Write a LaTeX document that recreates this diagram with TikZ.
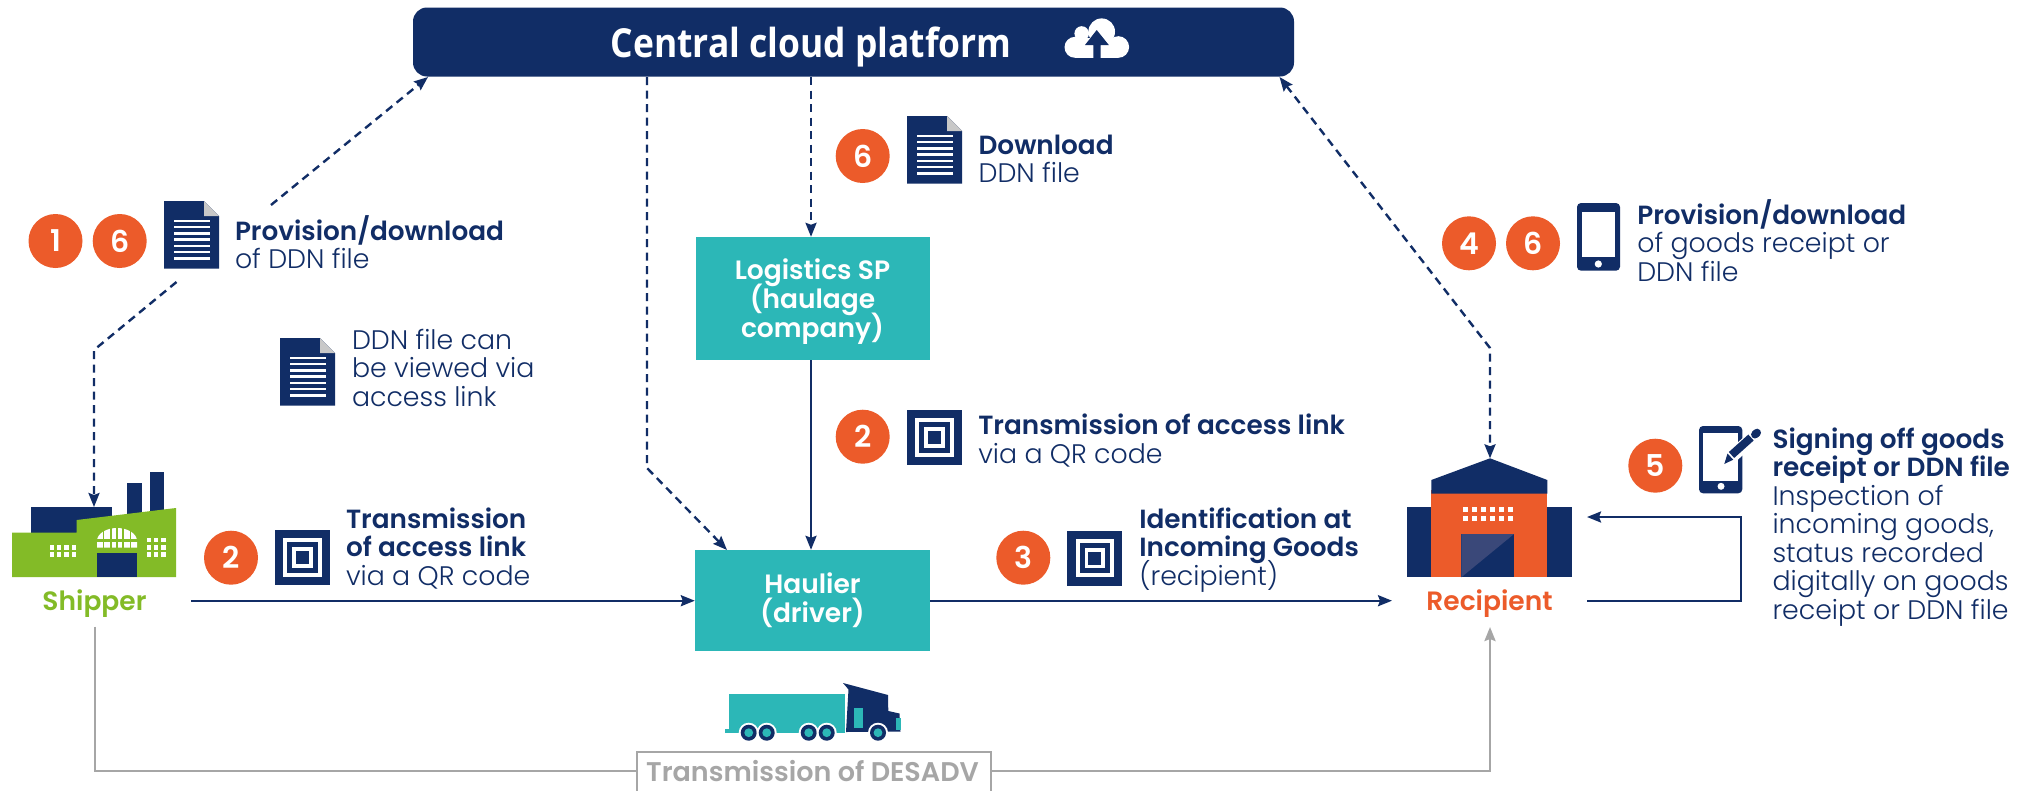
\documentclass[tikz,border=0pt]{standalone}
\usepackage{fontspec}
\usetikzlibrary{arrows.meta}
\setmainfont{Poppins}
\newfontfamily\platfont{Open Sans}
\newfontfamily\lightf{Poppins Light}
\newfontfamily\semif{Poppins SemiBold}
\definecolor{navy}{HTML}{112D66}
\definecolor{teal2}{HTML}{2CB7B7}
\definecolor{org}{HTML}{EC5B2A}
\definecolor{grn}{HTML}{83BB27}
\definecolor{gry}{HTML}{A6A6A6}
\definecolor{foldg}{HTML}{C8C8C8}
\definecolor{lightnavy}{HTML}{3A4879}
\newcommand\stk[1]{\vtop{\baselineskip=28.5pt\lineskiplimit=-100pt #1}}
\newcommand\lb[1]{\hbox{\semif\fontsize{26.3}{28.5}\selectfont #1}}
\newcommand\lr[1]{\hbox{\lightf\fontsize{26.8}{28.5}\selectfont #1}}
\newcommand\tealfont{\fontsize{26.5}{28.7}\selectfont\semif\setlength{\lineskiplimit}{-100pt}}
\tikzset{
  txt/.style={anchor=base west,inner sep=0pt,outer sep=0pt,text=navy,font=\fontsize{26}{28.5}\selectfont},
  badge/.style={circle,fill=org,minimum size=54pt,inner sep=0pt,text=white,font=\fontsize{30}{30}\selectfont\semif},
  tealbox/.style={rectangle,fill=teal2,inner sep=0pt,text=white,align=center,font=\tealfont},
  dashline/.style={draw=navy,line width=2.4pt,dash pattern=on 8pt off 5.5pt,-{Stealth[length=14pt,width=11pt,inset=2pt]}},
  solidline/.style={draw=navy,line width=2.4pt,-{Stealth[length=14pt,width=11pt,inset=2pt]}},
  plainline/.style={draw=navy,line width=2.4pt},
  grayline/.style={draw=gry,line width=2.6pt},
  grayarrow/.style={draw=gry,line width=2.6pt,-{Stealth[length=14pt,width=11pt,inset=2pt]}},
  icon/.style={inner sep=0pt,outer sep=0pt},
  pics/docicon/.style={code={
    \fill[navy] (0,0) -- (40,0) -- (55,15) -- (55,67.5) -- (0,67.5) -- cycle;
    \fill[foldg] (40,0) -- (55,15) -- (40,15) -- cycle;
    \foreach \yy in {19.7,26,32.3,38.6,44.9,51.2,57.5}
      \fill[white] (9.5,\yy-1.2) rectangle (45.5,\yy+1.2);
  }},
  pics/qricon/.style={code={
    \fill[navy] (0,0) rectangle (55,55);
    \fill[white] (8.3,8.3) rectangle (46.7,46.7);
    \fill[navy] (12.3,12.3) rectangle (42.7,42.7);
    \fill[white] (17.3,17.3) rectangle (37.7,37.7);
    \fill[navy] (21,21) rectangle (34,34);
  }}
}
\begin{document}
\begin{tikzpicture}[x=1pt,y=-1pt]
\useasboundingbox (0,0) rectangle (2036,790);
\fill[white] (0,0) rectangle (2036,790);

% platform
\node[rectangle,rounded corners=14pt,fill=navy,minimum width=881pt,minimum height=69pt,inner sep=0pt] (platform) at (853.5,42) {};
\node[inner sep=0pt,text=white,anchor=base west,font=\fontsize{40}{40}\selectfont\platfont\bfseries] (platformtext) at (610.5,57) {\scalebox{0.885}[1]{Central cloud platform}};
\fill[white] (1075,47.3) circle (10.5);
\fill[white] (1081.7,33.5) circle (7.3);
\fill[white] (1101.7,31.7) circle (13.3);
\fill[white] (1118.3,47) circle (10.8);
\fill[white] (1075,38) rectangle (1118,57.5);
\fill[navy] (1096.7,30) -- (1108.8,45) -- (1100.7,45) -- (1100.7,58) -- (1093.3,58) -- (1093.3,45) -- (1085,45) -- cycle;

% boxes
\node[tealbox,minimum width=234pt,minimum height=123pt] (logistics) at (812.5,298.5) {\rule{0pt}{27pt}Logistics SP\\(haulage\\company)};
\node[tealbox,minimum width=235pt,minimum height=101pt] (haulier) at (812.5,600.5) {Haulier\\(driver)};

% factory
\coordinate (shippertop) at (94,507);
\fill[navy] (31,507) rectangle (111.7,535);
\fill[navy] (126.7,483) rectangle (141.7,518);
\fill[navy] (150,472) rectangle (164,515);
\fill[grn] (12,532.7) -- (76.7,532.7) -- (76.7,520) -- (176,508) -- (176,577) -- (12,577) -- cycle;
\fill[navy] (97.3,553) rectangle (137,577);
\fill[white] (97,547.7) -- (97,541) arc[start angle=180,end angle=360,x radius=20,y radius=13] -- (137,547.7) -- cycle;
\foreach \xx in {103.5,111,117,123,130.5} \fill[grn] (\xx-.7,526) rectangle (\xx+.7,549);
\fill[grn] (96,539) rectangle (138,541.5);
\foreach \xx in {49.7,57,64.3,71.6} \foreach \yy in {545.3,552.3} \fill[white] (\xx,\yy) rectangle (\xx+4.4,\yy+4.4);
\foreach \xx in {146.7,154,161.3} \foreach \yy in {538,545.3,552.3} \fill[white] (\xx,\yy) rectangle (\xx+4.4,\yy+4.4);
\node[inner sep=0pt,anchor=base,text=grn,font=\fontsize{26.5}{28}\selectfont\semif] (shipper) at (94.5,610) {Shipper};

% recipient
\fill[navy] (1407,506.7) rectangle (1572,577.3);
\fill[org] (1431.3,490) rectangle (1547.3,577.3);
\fill[navy] (1490,458.3) -- (1547.3,480) -- (1547.3,493.7) -- (1431.3,493.7) -- (1431.3,480) -- cycle;
\foreach \xx in {0,1,...,5} \foreach \yy in {506.7,515.7} \fill[white] (1463+9*\xx,\yy) rectangle (1468.4+9*\xx,\yy+5.3);
\fill[navy] (1461.3,534) rectangle (1514,577.3);
\fill[lightnavy] (1461.3,534) -- (1514,534) -- (1461.3,577.3) -- cycle;
\coordinate (recipienttop) at (1490,458.3);
\node[inner sep=0pt,anchor=base,text=org,font=\fontsize{26.5}{28}\selectfont\semif] (recipient) at (1489.5,610) {Recipient};

% truck
\fill[teal2] (729.3,694) rectangle (845.3,733);
\fill[teal2] (725,729) rectangle (740,733);
\fill[navy] (843,683) -- (888,695) -- (888.3,711) -- (899.5,713.5) -- (900.5,731.5) -- (846,732) -- (848.5,689.5) -- cycle;
\fill[teal2] (854.3,707.7) rectangle (862.7,728.3);
\fill[teal2] (895.7,718.3) rectangle (900.5,730);
\foreach \xx/\bg in {748.7,766.7,808.7,826.7,878} {
  \fill[white] (\xx,732.7) circle (10);
  \fill[navy] (\xx,732.7) circle (8);
  \fill[teal2] (\xx,732.7) circle (4.4);
}

% icons
\pic at (164,201) {docicon};
\pic at (280,338) {docicon};
\pic at (907,116) {docicon};
\pic at (275,530) {qricon};
\pic at (907,410) {qricon};
\pic at (1067.3,530.5) {qricon};
% phone right
\fill[navy,rounded corners=4pt] (1577,203) rectangle (1620,270.7);
\fill[white] (1581.7,212.3) rectangle (1615.3,257.3);
\fill[white] (1598.3,264) circle (3.6);
% phone with pen
\fill[navy,rounded corners=4pt] (1699,426) rectangle (1742.3,493.3);
\fill[white] (1703.3,433.3) rectangle (1738,481);
\fill[white] (1721,486.3) circle (3.5);
\draw[white,line width=13pt,line cap=round] (1731,457) -- (1756,435);
\fill[navy] (1724.3,464) -- (1727.5,453.5) -- (1733.2,459.7) -- cycle;
\draw[navy,line width=8pt] (1731.5,455) -- (1751,437.5);
\draw[navy,line width=8pt,line cap=round] (1755,434.5) -- (1757,432.7);

% badges
\node[badge] (b1) at (55.5,241) {1};
\node[badge] (b6a) at (119.7,241) {6};
\node[badge] (b2a) at (231,557.7) {2};
\node[badge] (b6b) at (862.7,156) {6};
\node[badge] (b2b) at (862.7,436.7) {2};
\node[badge] (b3) at (1023.3,557.7) {3};
\node[badge] (b4) at (1469,243.3) {4};
\node[badge] (b6c) at (1533,243.3) {6};
\node[badge] (b5) at (1655.3,465.7) {5};

% texts
\node[txt] (t1) at (235,240) {\stk{\lb{Provision/download}\lr{of DDN file}}};
\node[txt] (t2) at (352,349) {\stk{\lr{DDN file can}\lr{be viewed via}\lr{access link}}};
\node[txt] (t3) at (346,528) {\stk{\lb{Transmission}\lb{of access link}\lr{via a QR code}}};
\node[txt] (t4) at (978.6,154) {\stk{\lb{Download}\lr{DDN file}}};
\node[txt] (t5) at (978.3,434.5) {\stk{\lb{Transmission of access link}\lr{via a QR code}}};
\node[txt] (t6) at (1139.3,528) {\stk{\lb{Identification at}\lb{Incoming Goods}\lr{(recipient)}}};
\node[txt] (t7) at (1637.3,224) {\stk{\lb{Provision/download}\lr{of goods receipt or}\lr{DDN file}}};
\node[txt] (t8) at (1772.5,448) {\stk{\lb{Signing off goods}\lb{receipt or DDN file}\lr{Inspection of}\lr{incoming goods,}\lr{status recorded}\lr{digitally on goods}\lr{receipt or DDN file}}};

% dashed connectors
\coordinate (d1a) at (271,205);
\coordinate (d1b) at (428,77);
\coordinate (d2a) at (176.5,282);
\coordinate (d2b) at (94,350);
\coordinate (d3a) at (647,77);
\coordinate (d3b) at (647,468);
\coordinate (d3c) at (727,550);
\coordinate (d5a) at (1279.5,77);
\coordinate (d5b) at (1490,348);
\coordinate (d4a) at (811,77);
\draw[dashline] (d1a) -- (d1b);
\draw[dashline] (d2a) -- (d2b) -- (shippertop);
\draw[dashline] (d3a) -- (d3b) -- (d3c);
\draw[dashline] (d4a) -- (d4a |- logistics.north);
\draw[dashline,{Stealth[length=14pt,width=11pt,inset=2pt]}-{Stealth[length=14pt,width=11pt,inset=2pt]}] (d5a) -- (d5b) -- (recipienttop);

% solid connectors
\coordinate (s1) at (191,600.7);
\coordinate (s2) at (1392,600.7);
\coordinate (s3) at (1587,600.7);
\coordinate (s4) at (1741,600.7);
\coordinate (s5) at (1741,517);
\coordinate (s6) at (1587,517);
\draw[solidline] (logistics.south -| d4a) -- (haulier.north -| d4a);
\draw[solidline] (s1) -- (haulier.west |- s1);
\draw[solidline] (haulier.east |- s2) -- (s2);
\draw[solidline] (s3) -- (s4) -- (s5) -- (s6);

% gray
\coordinate (g1) at (95,626.7);
\coordinate (g2) at (95,771);
\coordinate (g3) at (1490,771);
\coordinate (g4) at (1490,627);
\node[draw=gry,line width=2pt,fill=white,minimum width=354pt,minimum height=52pt,inner sep=0pt,anchor=north] (desadv) at (814,751) {};
\node[inner sep=0pt,anchor=base,text=gry,font=\fontsize{27}{28}\selectfont\semif] (desadvt) at (812.5,781.7) {Transmission of DESADV};
\draw[grayline] (g1) -- (g2) -- (desadv.west |- g2);
\draw[grayarrow] (desadv.east |- g3) -- (g3) -- (g4);
\end{tikzpicture}
\end{document}
